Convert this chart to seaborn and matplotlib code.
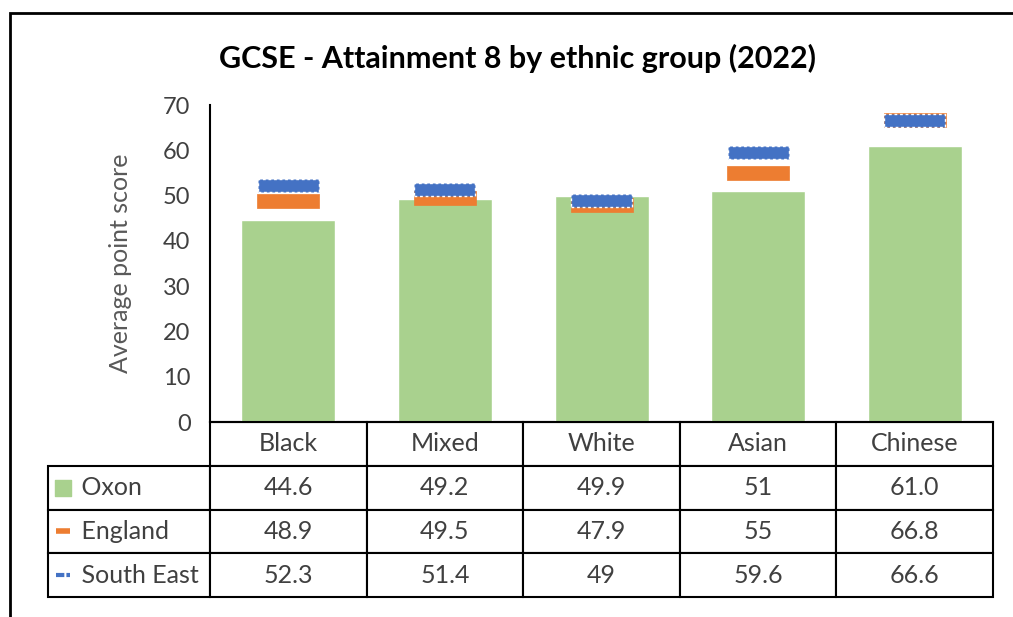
import matplotlib.pyplot as plt
import seaborn as sns
import pandas as pd
from matplotlib.path import Path
from matplotlib.patches import Rectangle

categories = ["Black", "Mixed", "White", "Asian", "Chinese"]
oxon = [44.6, 49.2, 49.9, 51, 61.0]
england = [48.9, 49.5, 47.9, 55, 66.8]
south_east = [52.3, 51.4, 49, 59.6, 66.6]
oxon_labels = ["44.6", "49.2", "49.9", "51", "61.0"]
england_labels = ["48.9", "49.5", "47.9", "55", "66.8"]
south_east_labels = ["52.3", "51.4", "49", "59.6", "66.6"]
series_names = ["Oxon", "England", "South East"]
yticks = [0, 10, 20, 30, 40, 50, 60, 70]

GREEN = "#A9D18E"
ORANGE = "#ED7D31"
BLUE = "#4472C4"
TEXT = "#404040"

sns.set_style("white")
plt.rcParams["font.family"] = ["Lato", "DejaVu Sans"]

df = pd.DataFrame({
    "group": categories,
    "Oxon": oxon,
    "England": england,
    "South East": south_east,
})


def rect_marker(aspect):
    # flat rectangle marker, width 1, height = aspect
    h = aspect / 2
    return Path([(-0.5, -h), (0.5, -h), (0.5, h), (-0.5, h), (-0.5, -h)], closed=True)


fig = plt.figure(figsize=(10.13, 6.17), dpi=100)
ax = fig.add_axes([0.2073, 0.3160, 0.773, 0.5138])

sns.barplot(data=df, x="group", y="Oxon", color=GREEN, width=0.6,
            saturation=1, ax=ax, zorder=2)

sns.scatterplot(data=df, x="group", y="England", marker=rect_marker(0.238),
                s=2057, color=ORANGE, edgecolor=ORANGE, linewidth=0.5,
                ax=ax, zorder=3, legend=False)

sns.scatterplot(data=df, x="group", y="South East", marker=rect_marker(0.215),
                s=1929, color=BLUE, edgecolor="white", linewidth=1.0,
                linestyle=(0, (2, 2)), ax=ax, zorder=4, legend=False)

ax.set_xlim(-0.5, 4.5)
ax.set_ylim(0, 70)
ax.set_yticks(yticks)
ax.set_xticks([])
ax.set_xlabel("")
ax.set_ylabel("Average point score", fontsize=18, color="#595959", labelpad=22)
ax.tick_params(axis="y", length=0, pad=14, labelsize=17, labelcolor=TEXT)
sns.despine(ax=ax, top=True, right=True)
for side in ["left", "bottom"]:
    ax.spines[side].set_color("black")
    ax.spines[side].set_linewidth(1.5)

# data table under the chart
cell_text = [[""] + categories,
             ["    " + series_names[0]] + oxon_labels,
             ["    " + series_names[1]] + england_labels,
             ["    " + series_names[2]] + south_east_labels]
col_widths = [162] + [156.6] * 5
table = ax.table(cellText=cell_text, cellLoc="center",
                 colWidths=[w / sum(col_widths) for w in col_widths],
                 bbox=[-0.207, -0.552, 1.207, 0.552])
table.auto_set_font_size(False)
table.set_fontsize(18)
for (r, c), cell in table.get_celld().items():
    cell.set_edgecolor("black")
    cell.set_linewidth(1.5)
    cell.get_text().set_color(TEXT)
    if c == 0:
        cell.get_text().set_ha("left")
        cell.PAD = 0.05
table[0, 0].visible_edges = ""

# legend keys inside the row label cells
row_h = 0.552 / 4
key_x = (63 - 210) / 783
ax.scatter([key_x], [-1.5 * row_h], marker="s", s=130, color=GREEN,
           transform=ax.transAxes, clip_on=False, zorder=5)
ax.plot([key_x - 0.009, key_x + 0.009], [-2.5 * row_h] * 2, color=ORANGE,
        lw=4, solid_capstyle="butt", transform=ax.transAxes, clip_on=False)
ax.plot([key_x - 0.009, key_x + 0.009], [-3.5 * row_h] * 2, color=BLUE,
        lw=3, dashes=(2, 0.5), transform=ax.transAxes, clip_on=False)

fig.text(517 / 1013, 1 - 58 / 617, "GCSE - Attainment 8 by ethnic group (2022)",
         ha="center", va="center", fontsize=22, fontweight="bold", color="black")

# chart area border
fig.patches.append(Rectangle((10 / 1013, -0.1), 1.2, 1.1 - 13 / 617,
                             transform=fig.transFigure, fill=False,
                             edgecolor="black", linewidth=2))

plt.savefig("out.png", dpi=100)
plt.close()
